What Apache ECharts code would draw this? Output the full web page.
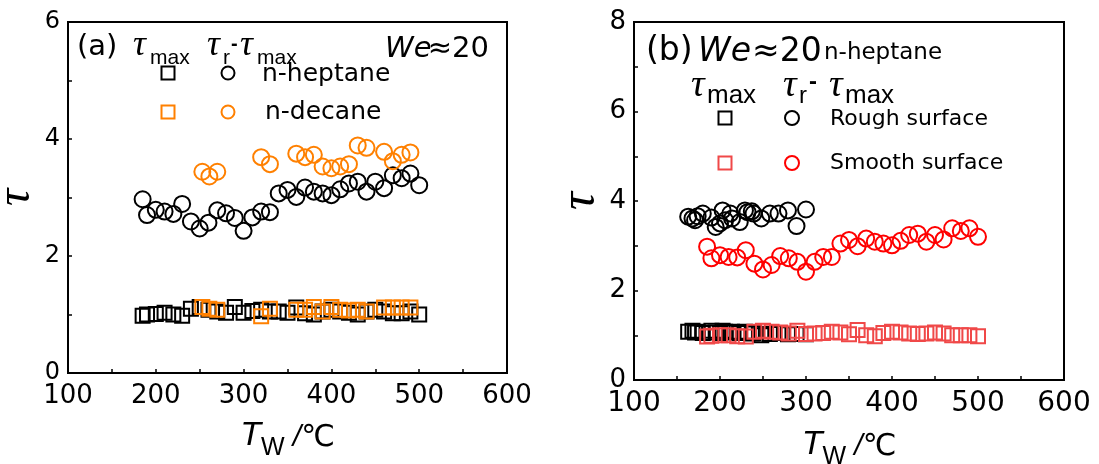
<!DOCTYPE html>
<html>
<head>
<meta charset="utf-8">
<script src="https://cdn.jsdelivr.net/npm/echarts@6/dist/echarts.min.js"></script>
<style>html,body{margin:0;padding:0;background:#fff}#c{width:1099px;height:464px}</style>
</head>
<body>
<div id="c"></div>
<script>
// ---------- data ----------
const xTicksA = [100, 600];          // x range panel (a)
const yTicksA = [0, 6];              // y range panel (a)
const xTicksB = [100, 600];
const yTicksB = [0, 8];

// panel (a): n-heptane
const hepX      = [185,190,200,210,220,230,240,250,260,270,280,290,300,310,320,330,340,350,360,370,380,390,400,410,420,430,440,450,460,470,480,490,500];
const hepTauRm  = [2.97,2.70,2.79,2.76,2.72,2.89,2.59,2.47,2.57,2.78,2.73,2.65,2.43,2.66,2.76,2.75,3.07,3.13,3.01,3.17,3.10,3.07,3.04,3.14,3.24,3.27,3.10,3.27,3.16,3.38,3.33,3.41,3.21];
const hepTauMax = [0.98,1.00,1.01,1.03,1.00,0.98,1.10,1.13,1.08,1.05,1.03,1.13,1.03,1.06,1.08,1.05,1.05,1.03,1.12,1.02,1.00,1.05,1.08,1.05,1.03,1.00,1.05,1.08,1.05,1.02,1.02,1.05,1.00];
// panel (a): n-decane
const decX      = [253,261,270,320,330,360,370,380,390,400,410,420,430,440,460,470,480,490];
const decTauRm  = [3.44,3.36,3.44,3.69,3.57,3.75,3.69,3.73,3.53,3.50,3.53,3.57,3.89,3.85,3.78,3.62,3.73,3.77];
const decTauMax = [1.13,1.10,1.08,0.97,1.10,1.08,1.08,1.13,1.05,1.13,1.08,1.07,1.08,1.05,1.12,1.12,1.12,1.12];

// panel (b): rough surface
const roughX      = [163,168,171,174,180,190,195,200,203,206,212,214,223,229,232,237,239,248,258,268,279,289,300];
const roughTauRm  = [3.65,3.61,3.57,3.66,3.72,3.63,3.42,3.50,3.79,3.57,3.72,3.61,3.53,3.79,3.75,3.77,3.72,3.61,3.72,3.72,3.79,3.44,3.81];
const roughTauMax = [1.08,1.10,1.06,1.08,1.05,1.10,1.06,1.05,1.10,1.08,1.06,1.08,1.05,1.08,1.06,1.04,1.05,1.00,1.03,1.05,1.02,1.03,1.02];
// panel (b): smooth surface
const smoothX      = [185,190,200,210,220,230,240,250,260,270,280,290,300,310,320,330,340,350,360,370,380,390,400,410,420,430,440,450,460,470,480,490,500];
const smoothTauRm  = [2.98,2.72,2.79,2.75,2.74,2.90,2.60,2.47,2.57,2.77,2.72,2.64,2.42,2.64,2.75,2.75,3.05,3.13,2.99,3.16,3.09,3.05,3.01,3.11,3.24,3.27,3.09,3.24,3.14,3.39,3.33,3.39,3.20];
const smoothTauMax = [0.97,0.99,1.00,1.00,0.98,0.97,1.08,1.10,1.08,1.06,1.04,1.10,1.03,1.04,1.05,1.08,1.06,1.02,1.12,1.00,0.98,1.05,1.08,1.06,1.04,1.03,1.04,1.06,1.04,1.00,1.00,1.00,0.98];

// ---------- styling ----------
const BLACK = '#000000', ORANGE = '#ff8000', RED = '#ff0000', LRED = '#f04848';
const SANS = 'DejaVu Sans';

function zip(xs, ys) { return xs.map((x, i) => [x, ys[i]]); }

function xAxis(gi, rng, fs, gap) {
  return {
    type: 'value', gridIndex: gi, min: rng[0], max: rng[1], interval: 100,
    axisLine: { show: true, lineStyle: { color: BLACK, width: 2 } },
    axisTick: { show: true, inside: true, length: 4, lineStyle: { color: BLACK, width: 1.5 } },
    minorTick: { show: true, splitNumber: 2, length: 4, lineStyle: { color: BLACK, width: 1.5 } },
    splitLine: { show: false },
    axisLabel: { color: BLACK, fontSize: fs, fontFamily: SANS, margin: 10 },
    name: '{T|T}{W|W}{sl| /}{c|℃}',
    nameLocation: 'middle', nameGap: gap,
    nameTextStyle: {
      color: BLACK,
      rich: {
        T: { fontFamily: 'Liberation Sans', fontStyle: 'italic', fontSize: 34, color: BLACK, verticalAlign: 'bottom', padding: [0, 0, 8, 0] },
        W: { fontFamily: 'Liberation Sans', fontSize: 25, color: BLACK, verticalAlign: 'bottom' },
        sl: { fontFamily: 'Liberation Sans', fontStyle: 'italic', fontSize: 30, color: BLACK, verticalAlign: 'bottom', padding: [0, 0, 8, 0] },
        c: { fontFamily: SANS, fontSize: 30, color: BLACK, verticalAlign: 'bottom', padding: [0, 0, 8, 0] }
      }
    }
  };
}
function yAxis(gi, rng, fs, nfs, gap) {
  return {
    type: 'value', gridIndex: gi, min: rng[0], max: rng[1], interval: 2,
    axisLine: { show: true, lineStyle: { color: BLACK, width: 2 } },
    axisTick: { show: true, inside: true, length: 4, lineStyle: { color: BLACK, width: 1.5 } },
    minorTick: { show: true, splitNumber: 2, length: 4, lineStyle: { color: BLACK, width: 1.5 } },
    splitLine: { show: false },
    axisLabel: { color: BLACK, fontSize: fs, fontFamily: SANS, margin: 8 },
    name: 'τ', nameLocation: 'middle', nameRotate: 90, nameGap: gap,
    nameTextStyle: { color: BLACK, fontFamily: 'Liberation Serif', fontStyle: 'italic', fontSize: nfs }
  };
}
function sc(name, xi, data, symbol, size, color) {
  return {
    name, type: 'scatter', xAxisIndex: xi, yAxisIndex: xi, data, symbol, symbolSize: size,
    itemStyle: { color: 'rgba(0,0,0,0)', borderColor: color, borderWidth: 2, opacity: 1 },
    emphasis: { disabled: true }, animation: false, z: 3
  };
}

// graphic helpers (legend / annotations)
function txt(x, y, s, font, align) {
  return { type: 'text', x, y, style: { text: s, font, fill: BLACK, textAlign: align || 'left', textVerticalAlign: 'middle' } };
}
function sq(cx, cy, s, color) {
  return { type: 'rect', shape: { x: cx - s / 2, y: cy - s / 2, width: s, height: s }, style: { fill: 'none', stroke: color, lineWidth: 2 } };
}
function ci(cx, cy, r, color) {
  return { type: 'circle', shape: { cx, cy, r }, style: { fill: 'none', stroke: color, lineWidth: 2 } };
}
const TAU = 'italic 36px "Liberation Serif"';

const graphics = [
  // panel (a)
  txt(77, 47, '(a)', '29px "DejaVu Sans"'),
  txt(133, 46, 'τ', TAU), txt(150, 58, 'max', '21px "Liberation Sans"'),
  txt(207, 46, 'τ', TAU), txt(223, 58, 'r', '21px "Liberation Sans"'), txt(231, 44, '-', 'bold 20px "Liberation Sans"'),
  txt(240, 46, 'τ', TAU), txt(257, 58, 'max', '21px "Liberation Sans"'),
  txt(385, 49, 'We', 'italic 29px "DejaVu Sans"'), txt(489, 49, '≈20', '29px "DejaVu Sans"', 'right'),
  sq(168, 73, 13, BLACK), ci(228, 73, 6.5, BLACK), txt(262, 74, 'n-heptane', '25px "DejaVu Sans"'),
  sq(168, 112, 13, ORANGE), ci(228, 112, 6.5, ORANGE), txt(265, 112, 'n-decane', '25px "DejaVu Sans"'),
  // panel (b)
  txt(646, 51, '(b)', '33px "DejaVu Sans"'),
  txt(698, 52, 'We', 'italic 33px "DejaVu Sans"'), txt(752, 52, '≈20', '33px "DejaVu Sans"'),
  txt(824, 53, 'n-heptane', '23px "DejaVu Sans"'),
  txt(691, 86, 'τ', 'italic 38px "Liberation Serif"'), txt(707, 96, 'max', '26px "Liberation Sans"'),
  txt(783, 86, 'τ', 'italic 38px "Liberation Serif"'), txt(799, 96, 'r', '24px "Liberation Sans"'), txt(809, 82, '-', 'bold 24px "Liberation Sans"'),
  txt(829, 86, 'τ', 'italic 38px "Liberation Serif"'), txt(845, 96, 'max', '26px "Liberation Sans"'),
  sq(725, 118, 13, BLACK), ci(792, 118, 7, BLACK), txt(830, 119, 'Rough surface', '22px "DejaVu Sans"'),
  sq(725, 163, 13, LRED), ci(792, 163, 7, RED), txt(830, 163, 'Smooth surface', '22px "DejaVu Sans"')
];

const option = {
  backgroundColor: '#fff',
  animation: false,
  grid: [
    { left: 68, top: 22, width: 439, height: 351, show: true, borderColor: BLACK, borderWidth: 2, backgroundColor: 'transparent', containLabel: false, outerBoundsMode: 'none' },
    { left: 634, top: 22, width: 430, height: 358, show: true, borderColor: BLACK, borderWidth: 2, backgroundColor: 'transparent', containLabel: false, outerBoundsMode: 'none' }
  ],
  xAxis: [xAxis(0, xTicksA, 26, 46), xAxis(1, xTicksB, 28, 48)],
  yAxis: [yAxis(0, yTicksA, 24, 48, 20), yAxis(1, yTicksB, 26, 50, 24)],
  series: [
    sc('n-heptane τmax', 0, zip(hepX, hepTauMax), 'rect', 14, BLACK),
    sc('n-heptane τr-τmax', 0, zip(hepX, hepTauRm), 'circle', 16, BLACK),
    sc('n-decane τmax', 0, zip(decX, decTauMax), 'rect', 14, ORANGE),
    sc('n-decane τr-τmax', 0, zip(decX, decTauRm), 'circle', 16, ORANGE),
    sc('Rough τmax', 1, zip(roughX, roughTauMax), 'rect', 14, BLACK),
    sc('Rough τr-τmax', 1, zip(roughX, roughTauRm), 'circle', 16, BLACK),
    sc('Smooth τmax', 1, zip(smoothX, smoothTauMax), 'rect', 14, LRED),
    sc('Smooth τr-τmax', 1, zip(smoothX, smoothTauRm), 'circle', 16, RED)
  ],
  graphic: graphics
};
const chart = echarts.init(document.getElementById('c'), null, { renderer: 'canvas' });
chart.setOption(option);
</script>
</body>
</html>
